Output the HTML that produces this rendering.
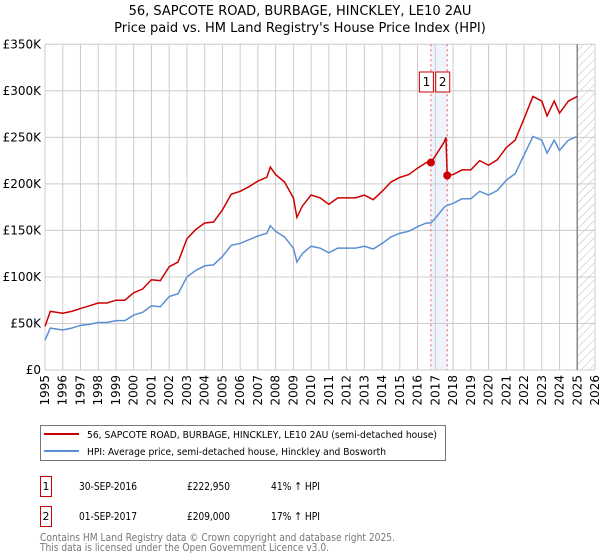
<!DOCTYPE html>
<html><head><meta charset="utf-8">
<style>
body{margin:0;background:#fff;font-family:"Liberation Sans","DejaVu Sans",sans-serif;}
#wrap{position:relative;width:600px;height:560px;overflow:hidden;}
svg text{font-family:"DejaVu Sans","Liberation Sans",sans-serif;}
</style></head><body>
<div id="wrap">
<svg id="chart" width="600" height="560"></svg>
</div>
<script>
const hpiYears=[1995.0,1995.3,1996,1996.5,1997,1997.5,1998,1998.5,1999,1999.5,2000,2000.5,2001,2001.5,2002,2002.5,2003,2003.5,2004,2004.5,2005,2005.5,2006,2006.5,2007,2007.5,2007.7,2008,2008.5,2009,2009.2,2009.5,2010,2010.5,2011,2011.5,2012,2012.5,2013,2013.5,2014,2014.5,2015,2015.5,2016,2016.5,2016.75,2017,2017.5,2017.67,2018,2018.5,2019,2019.5,2020,2020.5,2021,2021.5,2022,2022.5,2023,2023.3,2023.7,2024,2024.5,2025];
const hpiValues=[32,45,43,45,48,49,51,51,53,53,59,62,69,68,79,82,100,107,112,113,122,134,136,140,144,147,155,149,143,131,116,125,133,131,126,131,131,131,133,130,136,143,147,149,154,158,158,163,175,177,179,184,184,192,188,193,204,211,231,251,247,233,247,236,247,251];
const priceYears=[1995.0,1995.3,1996,1996.5,1997,1997.5,1998,1998.5,1999,1999.5,2000,2000.5,2001,2001.5,2002,2002.5,2003,2003.5,2004,2004.5,2005,2005.5,2006,2006.5,2007,2007.5,2007.7,2008,2008.5,2009,2009.2,2009.5,2010,2010.5,2011,2011.5,2012,2012.5,2013,2013.5,2014,2014.5,2015,2015.5,2016,2016.5,2016.75,2017,2017.5,2017.6,2017.67,2018,2018.5,2019,2019.5,2020,2020.5,2021,2021.5,2022,2022.5,2023,2023.3,2023.7,2024,2024.5,2025];
const priceValues=[47,63,61,63,66,69,72,72,75,75,83,87,97,96,111,116,141,151,158,159,172,189,192,197,203,207,218,210,202,185,164,176,188,185,178,185,185,185,188,183,192,202,207,210,217,223,223,230,245,250,209,210,215,215,225,220,226,239,247,270,294,289,273,289,276,289,294];
const sales=[{n:"1",year:2016.75,value:222.95},{n:"2",year:2017.67,value:209}];
const yTicks=[0,50,100,150,200,250,300,350];
const yLabels=["£0","£50K","£100K","£150K","£200K","£250K","£300K","£350K"];
const xTicks=[1995,1996,1997,1998,1999,2000,2001,2002,2003,2004,2005,2006,2007,2008,2009,2010,2011,2012,2013,2014,2015,2016,2017,2018,2019,2020,2021,2022,2023,2024,2025,2026];

const L=45,R=595,T=44.3,B=370;
const xs=y=>L+(y-1995)/31*(R-L);
const ys=v=>B-v/350*(B-T);
const NS="http://www.w3.org/2000/svg";
const svg=document.getElementById('chart');
function mk(tag,attrs,parent){const e=document.createElementNS(NS,tag);for(const k in attrs)e.setAttribute(k,attrs[k]);(parent||svg).appendChild(e);return e;}

const defs=mk('defs',{});
const pat=mk('pattern',{id:'hatch',patternUnits:'userSpaceOnUse',width:6,height:6,patternTransform:'rotate(45)'},defs);
mk('line',{x1:0,y1:0,x2:0,y2:6,stroke:'#bbb','stroke-width':1},pat);

let t=mk('text',{x:300,y:15,'text-anchor':'middle','font-size':13,fill:'#000'});t.textContent="56, SAPCOTE ROAD, BURBAGE, HINCKLEY, LE10 2AU";


t=mk('text',{x:300,y:32,'text-anchor':'middle','font-size':13,fill:'#000'});t.textContent="Price paid vs. HM Land Registry's House Price Index (HPI)";



const band=mk('rect',{x:xs(sales[0].year),y:T,width:xs(sales[1].year)-xs(sales[0].year),height:B-T,fill:'#eef3fc'});


const hz=mk('rect',{x:xs(2025),y:T,width:R-xs(2025),height:B-T,fill:'url(#hatch)'});



yTicks.forEach((v,i)=>{
  const g=mk('line',{x1:L,x2:R,y1:ys(v),y2:ys(v),stroke:'#ccc','stroke-width':1});
  
  
  const tx=mk('text',{x:L-4,y:ys(v)+4,'text-anchor':'end','font-size':12,fill:'#000'});tx.textContent=yLabels[i];
  
  
});
xTicks.forEach(y=>{
  const g=mk('line',{x1:xs(y),x2:xs(y),y1:T,y2:B,stroke:'#ccc','stroke-width':1});
  
  
  const tx=mk('text',{x:0,y:0,'text-anchor':'end','font-size':12,fill:'#000',transform:`translate(${xs(y)+4},${B+5}) rotate(-90)`});tx.textContent=y;
  
  
});
const now=mk('line',{x1:xs(2025),x2:xs(2025),y1:T,y2:B,stroke:'#888','stroke-width':1.5});



sales.forEach(s=>{
  const l=mk('line',{x1:xs(s.year),x2:xs(s.year),y1:T,y2:B,stroke:'#e55','stroke-width':1,'stroke-dasharray':'2,3'});
  
  
  const bx=xs(s.year)-11.5;
  const r=mk('rect',{x:bx,y:72,width:14,height:20,fill:'#fff',stroke:'#c00','stroke-width':1});
  
  
  const tx=mk('text',{x:bx+7,y:86,'text-anchor':'middle','font-size':12,fill:'#000'});tx.textContent=s.n;
  
  
});

const hp=mk('polyline',{points:hpiYears.map((y,i)=>xs(y)+','+ys(hpiValues[i])).join(' '),fill:'none',stroke:'#5b8fd4','stroke-width':1.5});


const pp=mk('polyline',{points:priceYears.map((y,i)=>xs(y)+','+ys(priceValues[i])).join(' '),fill:'none',stroke:'#cc0000','stroke-width':1.5});


sales.forEach(s=>{
  const c=mk('circle',{cx:xs(s.year),cy:ys(s.value),r:4,fill:'#cc0000'});
  
  
});

const lg=mk('rect',{x:40.5,y:425.5,width:405,height:35,fill:'#fff',stroke:'#777'});


let ll=mk('line',{x1:44,x2:79,y1:434,y2:434,stroke:'#cc0000','stroke-width':2});


t=mk('text',{x:87,y:438,'font-size':10,fill:'#000',textLength:350,lengthAdjust:'spacingAndGlyphs'});t.textContent="56, SAPCOTE ROAD, BURBAGE, HINCKLEY, LE10 2AU (semi-detached house)";


ll=mk('line',{x1:44,x2:79,y1:451,y2:451,stroke:'#5b8fd4','stroke-width':2});


t=mk('text',{x:87,y:455,'font-size':10,fill:'#000',textLength:299,lengthAdjust:'spacingAndGlyphs'});t.textContent="HPI: Average price, semi-detached house, Hinckley and Bosworth";



const rows=[["1","30-SEP-2016","£222,950","41% \u2191 HPI",476],["2","01-SEP-2017","£209,000","17% \u2191 HPI",506]];
rows.forEach(r=>{
  const b=mk('rect',{x:40.5,y:r[4]+0.5,width:11,height:20,fill:'#fff',stroke:'#c00'});
  
  
  const cells=[[46,r[0],'middle',0],[79,r[1],'start',58],[187,r[2],'start',43],[271,r[3],'start',49]];
  cells.forEach(c=>{
    const a={x:c[0],y:r[4]+14,'font-size':11,fill:'#000','text-anchor':c[2]};
    if(c[3]){a.textLength=c[3];a.lengthAdjust='spacingAndGlyphs';}
    const tx=mk('text',a);tx.textContent=c[1];
    
    
  });
});
t=mk('text',{x:40,y:541,'font-size':10.5,fill:'#777',textLength:355,lengthAdjust:'spacingAndGlyphs'});t.textContent="Contains HM Land Registry data \u00a9 Crown copyright and database right 2025.";


t=mk('text',{x:40,y:551,'font-size':10.5,fill:'#777',textLength:289,lengthAdjust:'spacingAndGlyphs'});t.textContent="This data is licensed under the Open Government Licence v3.0.";


</script>
</body></html>
